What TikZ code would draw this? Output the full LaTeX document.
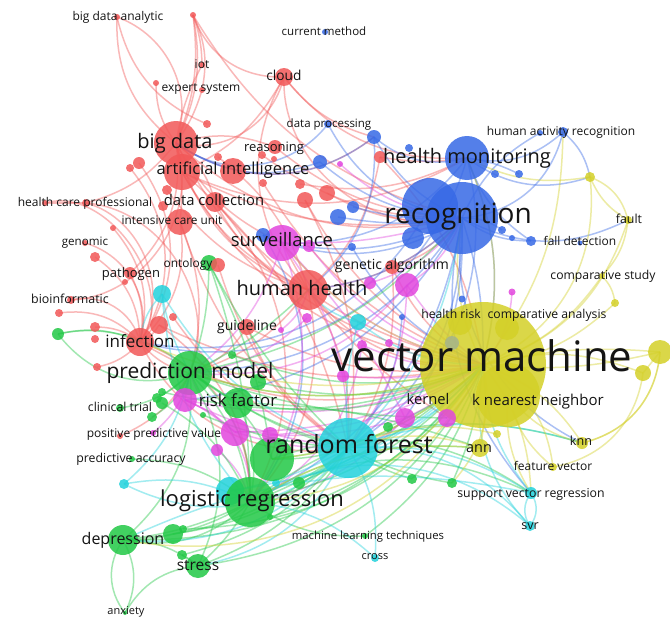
\documentclass[tikz,border=0pt]{standalone}
\usepackage{fontspec}
\setmainfont{Open Sans}
\pgfdeclarelayer{edges}
\pgfdeclarelayer{labels}
\pgfsetlayers{edges,main,labels}
\definecolor{cR}{RGB}{242,88,88}
\definecolor{cG}{RGB}{34,200,70}
\definecolor{cB}{RGB}{55,105,230}
\definecolor{cY}{RGB}{212,208,40}
\definecolor{cC}{RGB}{35,210,220}
\definecolor{cM}{RGB}{226,70,222}
\definecolor{cGr}{RGB}{165,180,140}
\newcommand\fsz[1]{\fontsize{#1}{#1}\selectfont}
\tikzset{
  bub/.style={circle,inner sep=0pt,draw=none,fill opacity=.85},
  lbl/.style={inner sep=0pt,anchor=base,text=black!92},
  edg/.style={line width=1.5pt,draw opacity=.42},
}
\begin{document}
\begin{tikzpicture}[x=1pt,y=-1pt]
\useasboundingbox (0,0) rectangle (670,621);
% ---------------- bubbles ----------------
% yellow
\foreach \n/\x/\y/\d in {vm/483/365/126,knnb/508/395/64,yA/660/352/24,yB/643/373/16,ann/480/448/18,knn/582/443/12,fv/553/467/8,yC/497/434/8,fault/628/220/8,cs/602/276/6,yD/590/177/10,yE/615/303/8,yF/460/323/24,yG/507/328/24}
  \node[bub,fill=cY,minimum size=\d pt] (\n) at (\x,\y) {};
\node[bub,fill=cGr,minimum size=14pt] (grey) at (452,343) {};
% cyan
\foreach \n/\x/\y/\d in {rfc/348/448/60,cA/162/294/18,cB/358/322/16,cC/124/484/10,cD/230/491/28,cE/276/483/8,svreg/531/493/12,svr/530/526/10,cross/375/558/8}
  \node[bub,fill=cC,minimum size=\d pt] (\n) at (\x,\y) {};
% green
\foreach \n/\x/\y/\d in {pm/190/373/44,rfg/272/459/44,lr/250/502/50,dep/123/540/30,str/198/566/24,anx/125/613/4,ct/120/408/8,pa/132/459/6,gA/58/334/12,gB/152/417/10,gC/157/398/10,gD/162/403/12,gE/162/392/8,gF/203/415/6,gG/232/355/8,gH/258/382/16,rfac/238/403/30,gI/299/483/12,gJ/173/534/20,gK/183/529/8,gL/182/555/10,gM/270/517/6,gN/388/427/10,gO/412/479/10,gP/452/483/10,mlt/365/536/6,ontG/209/263/16}
  \node[bub,fill=cG,minimum size=\d pt] (\n) at (\x,\y) {};
% magenta
\foreach \n/\x/\y/\d in {surv/282/243/36,mA/309/246/12,mB/407/285/24,mC/370/283/12,mD/307/318/10,mE/362/345/10,mF/389/343/8,mG/343/376/12,mH/281/330/6,mI/185/400/24,mJ/235/432/28,mK/217/450/12,mL/270/435/16,mM/153/433/6,ker1/405/418/20,ker2/447/418/18,mN/340/164/6,mO/512/292/7}
  \node[bub,fill=cM,minimum size=\d pt] (\n) at (\x,\y) {};
% red
\foreach \n/\x/\y/\d in {bd/176/143/44,ai/182/172/36,ai2/233/171/26,dc/215/202/20,icu/180/222/26,hcpA/45/203/6,hcpB/86/203/8,gen/85/243/6,rA/95/257/10,path/130/273/12,pathB/125/282/6,bioi/71/300/8,cloud/284/77/18,iot/202/65/6,exp/202/90/6,rB/156/83/6,bda/117/17/6,rC/193/15/6,reas/275/147/14,rD/207/124/8,rE/139/163/12,rF/130/168/8,rG/218/157/8,rH/262/155/8,rI/274/159/6,rJ/263/183/8,rK/300/184/10,rL/305/200/16,rM/327/193/16,rN/167/190/10,rN2/163/206/10,rO/113/228/6,hh/308/290/40,inf/140/342/28,rP/159/325/18,rQ/95/327/10,rQ2/95/339/8,rR/97/367/8,rT/173/317/8,rU/59/313/8,ontR/218/265/14,ga/392/267/14,guide/247/327/16,ppvR/120/436/6,rS/380/157/12}
  \node[bub,fill=cR,minimum size=\d pt] (\n) at (\x,\y) {};
% blue
\foreach \n/\x/\y/\d in {rec2/430/206/56,rec/462/218/72,rec3/413/238/22,hm/467/158/44,har/563/132/10,har2/540/133/6,cm/325/32/6,dp/328/124/8,dp2/374/137/14,bA/320/162/14,bB/409/148/8,bC/495/174/8,bD/519/174/8,bE/502/230/8,bF/512/238/6,fd/531/241/10,fd2/580/243/5,bG/353/207/12,bH/338/217/16,bI/352/247/8,bJ/263/235/14,bK/402/317/6,bL/462/299/7}
  \node[bub,fill=cB,minimum size=\d pt] (\n) at (\x,\y) {};
% ---------------- edges ----------------
\begin{pgfonlayer}{edges}
\fill[white] (0,0) rectangle (670,621);
\foreach \a/\b/\c in {bd/bda/-25,bd/bda/15,bd/rC/-10,rC/bd/8,bd/iot/5,bd/exp/-5,bd/rB/10,rC/iot/5,rC/cloud/-20,rC/exp/10,rC/rec/-12,bda/rD/-15,bd/cloud/-25,cloud/rec/-30,cloud/hm/-15,cloud/hh/-20,cloud/dp2/-10,bd/hcpB/10,hcpA/hcpB/0,hcpA/inf/40,hcpB/inf/30,hcpB/pm/30,gen/inf/25,bioi/inf/25,bioi/bd/-30,path/inf/10,path/bd/-15,rA/inf/15,bd/ai/0,bd/dc/10,bd/icu/5,bd/hh/-15,bd/rec/-15,bd/surv/-10,bd/vm/-15,bd/dp2/-20,ai/rec/-10,ai/hm/-15,ai/hh/-10,ai/vm/-15,ai/rfc/10,dc/hh/-10,dc/vm/-10,dc/lr/20,icu/inf/15,icu/pm/10,icu/rfc/-10,inf/pm/-10,inf/rfc/-20,inf/lr/20,inf/vm/-15,hh/vm/-15,hh/rfc/10,hh/lr/15,hh/pm/10,hh/rec/-10,hh/surv/0,hh/ker2/-5,guide/pm/10,guide/rfc/-10,guide/vm/-10,ga/vm/-10,ga/rec/-10,ga/rfc/10,reas/rec/-10,reas/bd/-10,rS/hm/-5,rS/hh/10,rS/vm/10,ppvR/pm/-10,rP/inf/10,rP/lr/15,rP/vm/-10,rU/inf/15,rR/inf/-10,rM/rec/-10,rL/vm/-10,rK/hm/-10,rL/rfc/10,rN/hh/-10,rT/rfc/-10,ontR/rfc/-10,rE/inf/20,rF/inf/20,rJ/vm/-10,rH/rec/-10,rG/hh/10,rO/inf/15,rQ/inf/10,cloud/ai/10}
  {\pgfmathsetmacro\bb{1.8*\c}\draw[edg,cR] (\a.center) to[bend left=\bb] (\b.center);}
\foreach \a/\b/\c in {rec/har/-20,hm/har/-15,rec/har2/10,hm/bD/5,rec/fd/-10,rec/bE/10,rec/dp2/10,hm/dp2/15,dp/rec/-15,dp2/bd/20,dp/bd/25,rec/hh/10,rec/surv/10,rec/vm/5,rec/rfc/15,rec/lr/15,rec/pm/15,hm/vm/10,hm/surv/15,hm/yD/-15,rec/bH/5,rec/bG/5,bA/rec/-10,bA/bd/15,bJ/rec/-15,bJ/surv/0,bJ/lr/20,hm/rfc/20,rec/ker1/10,rec/svreg/-15,rec2/inf/20,hm/inf/25,rec/fault/-15,hm/fd/-10,bI/vm/-10,bK/rfc/10,rec/knn/-20,har/yD/10,dp2/hh/15,rec/mI/15}
  {\pgfmathsetmacro\bb{1.8*\c}\draw[edg,cB] (\a.center) to[bend left=\bb] (\b.center);}
\foreach \a/\b/\c in {surv/vm/-10,surv/rfc/10,surv/lr/15,surv/pm/10,surv/rec/-5,mB/vm/-5,mB/rfc/10,mB/rec/-10,mB/pm/15,mI/pm/0,mI/vm/-10,mI/rfc/-5,mJ/vm/-8,mJ/rfc/-5,mJ/pm/10,mL/vm/-8,ker1/vm/-5,ker2/vm/-5,ker1/rfc/10,ker1/lr/10,mG/vm/-5,mE/vm/-8,mE/lr/15,mD/pm/10,mH/hh/-10,mM/pm/-10,mK/lr/10,mC/rec/-10,mA/vm/-10,mN/rec/-10,mO/vm/10,mI/lr/20,surv/ker1/5,mI/mJ/5,mJ/mL/5,mL/ker1/-5}
  {\pgfmathsetmacro\bb{1.8*\c}\draw[edg,cM] (\a.center) to[bend left=\bb] (\b.center);}
\foreach \a/\b/\c in {pm/lr/10,pm/rfg/10,pm/vm/-10,pm/rfc/-5,pm/rfac/0,rfac/lr/10,rfac/vm/-10,rfac/rfc/-5,rfg/vm/-10,rfg/rfc/-5,lr/vm/-10,lr/rfc/-5,lr/dep/5,lr/str/5,dep/str/10,dep/anx/15,str/anx/-15,dep/anx/-20,gJ/lr/-5,gJ/dep/5,gL/str/5,gA/pm/-20,gA/inf/10,gA/lr/30,ct/pm/-10,pa/lr/10,gB/pm/-10,gC/pm/-5,gD/lr/10,gH/vm/-10,gG/vm/-10,gI/vm/-5,gO/vm/-5,gP/vm/-5,gN/vm/-5,gO/rfc/5,gP/rfc/5,mlt/lr/10,mlt/vm/-10,ontG/pm/5,ontG/lr/5,ontG/rfc/-5,ontG/rfg/5,rfg/svreg/15,lr/svreg/15,dep/vm/-15,dep/rfc/-10,str/rfc/-10,str/vm/-15,gJ/rfc/-10,lr/ann/10,pm/ker2/-5,rfac/ann/5,gK/vm/-15,gL/rfc/-10,dep/pm/-15,str/pm/-15,gE/vm/-10,gF/rfc/-5,gM/vm/-10,dep/lr/-15,lr/knn/15,pm/hh/-5,pm/rec/-10}
  {\pgfmathsetmacro\bb{1.8*\c}\draw[edg,cG] (\a.center) to[bend left=\bb] (\b.center);}
\foreach \a/\b/\c in {rfc/vm/-10,rfc/svreg/10,rfc/svr/15,rfc/cross/10,rfc/cC/20,cC/lr/10,cC/pm/-10,cA/rfc/-10,cA/pm/-5,cA/lr/-10,cB/vm/-10,cB/rfc/-5,cD/rfc/-5,cD/vm/-10,svreg/vm/10,svr/vm/15,svr/svreg/20,svr/svreg/-20,svr/lr/-20,cross/lr/-10,cE/vm/-10,rfc/knn/10,rfc/rec/-10,cB/hh/10,rfc/dep/15,rfc/str/15,cA/inf/-10,svreg/dep/-10}
  {\pgfmathsetmacro\bb{1.8*\c}\draw[edg,cC] (\a.center) to[bend left=\bb] (\b.center);}
\foreach \a/\b/\c in {vm/fault/-15,vm/cs/-10,vm/yD/-20,vm/knn/10,vm/fv/15,vm/ann/5,vm/yA/-5,vm/yA/5,vm/yB/10,vm/yE/-10,knnb/knn/-10,knnb/fv/-10,ann/lr/-10,ann/rfc/-10,yA/yB/0,yD/fault/15,yD/fault/-10,fault/cs/10,yE/cs/-10,vm/hm/-10,vm/rec/10,vm/pm/10,vm/lr/15,vm/rfg/10,yC/rfc/-10,vm/svreg/10,vm/har/-10,yD/hm/10,knn/yA/-20,fv/yB/-20,vm/surv/10,vm/dep/20,vm/inf/10,yA/knn/20,vm/gP/15,knnb/svreg/-10}
  {\pgfmathsetmacro\bb{1.8*\c}\draw[edg,cY] (\a.center) to[bend left=\bb] (\b.center);}
\end{pgfonlayer}
% ---------------- labels ----------------
\begin{pgfonlayer}{labels}
\foreach \n/\x/\y/\s/\t in {vm/482/360/42/vector machine,rec/458/216/28/recognition,rf/349/447/25/random forest,hm/467/158/20/health monitoring,bd/175/143/20/big data,ai/233/170/16.5/artificial intelligence,hh/302/290/20/human health,surv/282/242/18.5/surveillance,pm/190/373/21/prediction model,lr/252/501/22/logistic regression,inf/140/343/17/infection,rfac/238/402/16.8/risk factor,dep/123/540/16/depression,str/198/566/15.5/stress,dc/214/202/14.8/data collection,ker/428/401/14.7/kernel,knb/538/401/15/k nearest neighbor,ann/479/449/14.4/ann,cloud/284/77/13.7/cloud,reas/274/148/13/reasoning,guide/247/327/14/guideline,ga/392/266/14/genetic algorithm,icu/172/221/11.8/intensive care unit,hcp/85/203/12/health care professional,har/561/132/12/human activity recognition,ppv/154/434/12/positive predictive value,svreg/531/494/12.3/support vector regression,mlt/368/536/11.3/machine learning techniques,bda/118/17/12/big data analytic,iot/202/65/12/iot,exp/201/88/12/expert system,cm/324/32/11.5/current method,dp/329/124/11.5/data processing,gen/85/242/11.6/genomic,path/131/274/13/pathogen,bioi/70/300/12.4/bioinformatic,onto/188/264/11.9/ontology,ct/120/408/12.3/clinical trial,pa/131/459/12.3/predictive accuracy,anx/126/612/11/anxiety,cross/375/557/11/cross,svr/530/526/12.5/svr,fv/553/467/12/feature vector,knn/581/442/12.6/knn,fault/629/220/12.4/fault,cs/603/276/12.2/comparative study,fd/580/242/12/fall detection,hr/451/315/12.2/health risk,ca/547/315/12.2/comparative analysis}
  \node[lbl,font=\fsz{\s},yshift=-\s*0.27pt] (t-\n) at (\x,\y) {\t};
\end{pgfonlayer}
\end{tikzpicture}
\end{document}
